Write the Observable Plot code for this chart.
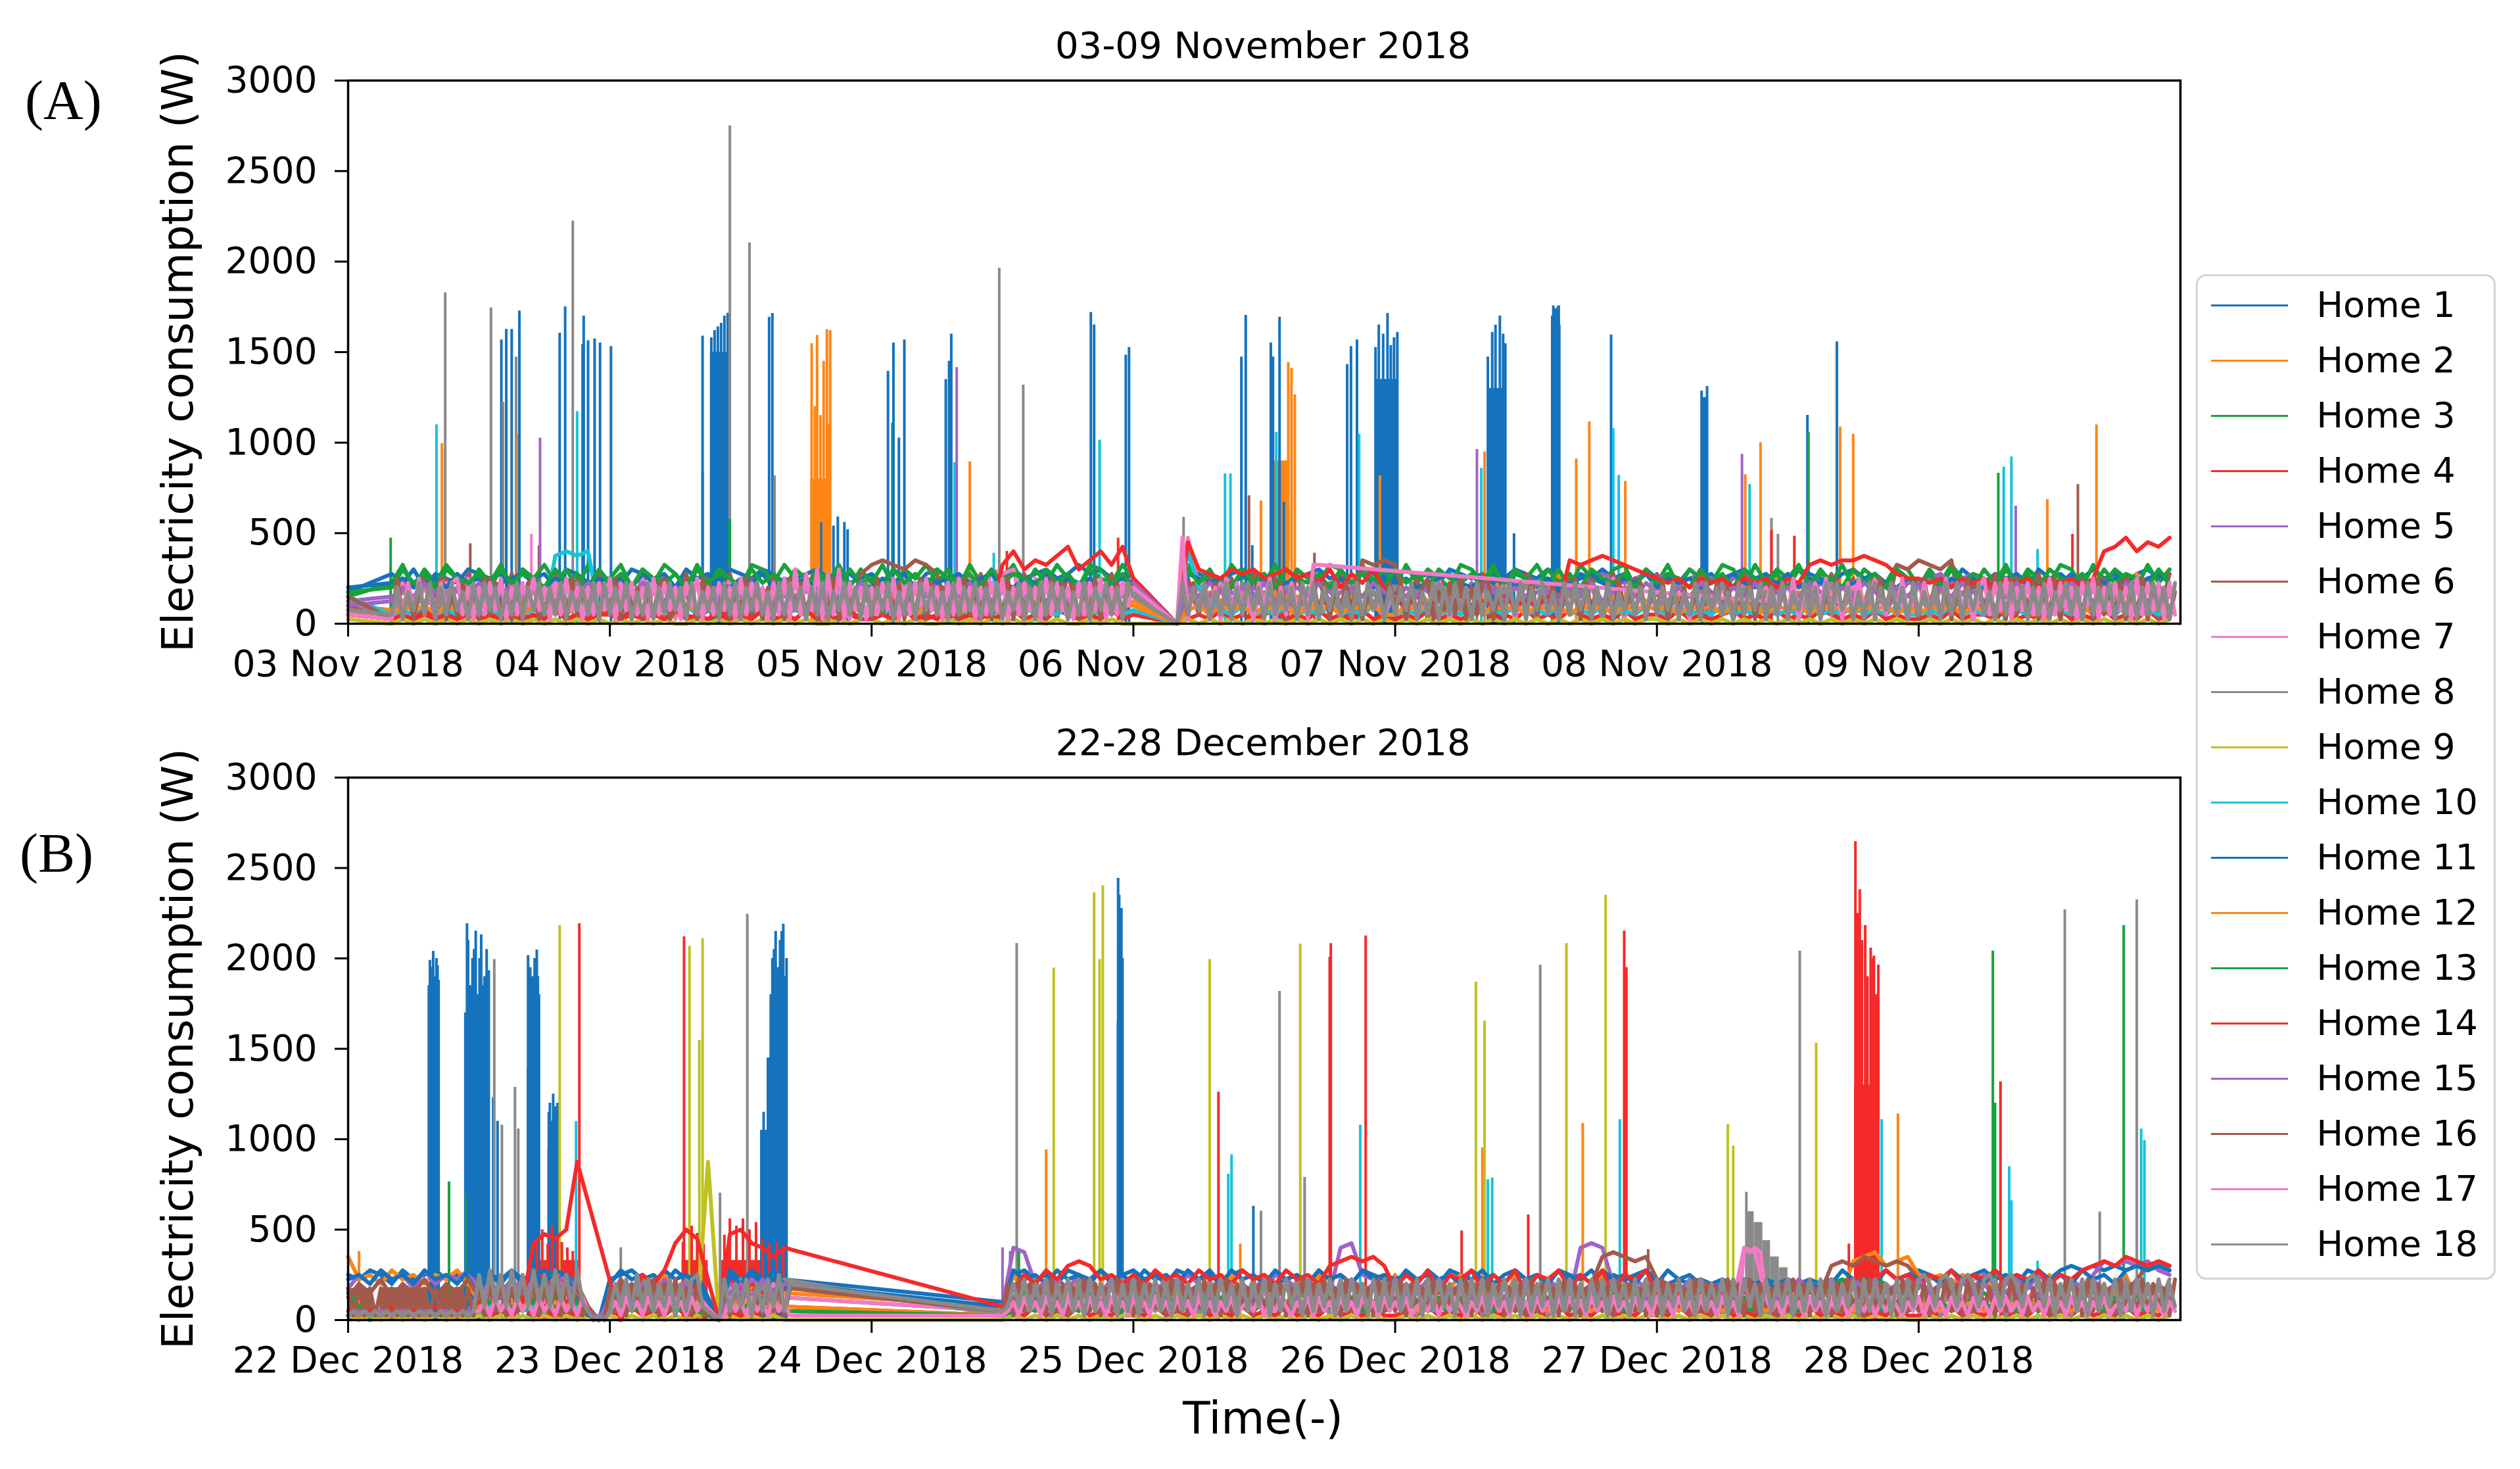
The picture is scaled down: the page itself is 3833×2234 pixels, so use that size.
<!DOCTYPE html>
<html><head><meta charset="utf-8">
<script src="https://cdn.jsdelivr.net/npm/d3@7"></script>
<script src="https://cdn.jsdelivr.net/npm/@observablehq/plot@0.6"></script>
<style>
html,body{margin:0;padding:0;background:#fff;}
#root{position:relative;width:3833px;height:2234px;background:#fff;overflow:hidden;}
#root svg{position:absolute;}
</style></head><body><div id="root"></div>
<script>
// ---------- DATA ----------
const homes = ["Home 1","Home 2","Home 3","Home 4","Home 5","Home 6","Home 7","Home 8","Home 9","Home 10","Home 11","Home 12","Home 13","Home 14","Home 15","Home 16","Home 17","Home 18"];
const homeColors = ["#1573bd","#ff8516","#18a23c","#f52a2a","#a064c8","#a35a4b","#f47ac4","#8a8a8a","#c0c022","#16c4da",
                    "#1573bd","#ff8516","#18a23c","#f52a2a","#a064c8","#a35a4b","#f47ac4","#8a8a8a"];
const titleA = "03-09 November 2018";
const titleB = "22-28 December 2018";
const tickDaysA = ["2018-11-03","2018-11-04","2018-11-05","2018-11-06","2018-11-07","2018-11-08","2018-11-09"];
const tickDaysB = ["2018-12-22","2018-12-23","2018-12-24","2018-12-25","2018-12-26","2018-12-27","2018-12-28"];
const yTicks = [0,500,1000,1500,2000,2500,3000];
const startA = "2018-11-03", startB = "2018-12-22";

// readings over the week, one char per step (base-36 digit x 25 W); "." or "(n)" = no reading
// 168 chars = hourly, 336 chars = half-hourly
const baseA = [
"7...b9c8ba9cbab9cab8cb9a a9cbab8cab9cbacb9abcab9a b9ca8bcab9ab8cabcabdbcab a...0cba9bcab8cabcab9cba bcab9cbab8acbacb9bacab9c ab9cab8bcab9acba9bcab8ca 9ab8ca9bab8cab9acab9bcab",
"4...35654746354753645764 465374563547465375463546 546374635475364536475463 5...06475364574635476354 647536475a63547b64536475 536475b4635a47536475b463 4635a7536b4635a75364b753",
"6...9d8c9da8c9d8cad9c8d9 ad8c9db8d9ca8dc9da8c9d8c 9d8cad9c8d9cad8c9da8dc9d a...0d9c8dac9d8ca9dc8d9c 8d9ca8dc9d8cad9c8da9cd8c 9d8ca9dc8d9cad8c9d8ca9dc 8c9da8c9d8ca9dc8d9ca8d9c",
"2...12121312213121231212 212131221312123121312121 121321213121231213212131 2...01213121231213121312 121312123121312132121312 213121231213121321213121 121312213121231213121312",
"5...67586978567869758697 786975869786957869786957 697586978695786978569786 8...07869758697869578697 869785697869578697aba9ab ab9aba8ab9a789697869a869 9ab9aba7869786978697a869",
"4...2a3b1a2b3a1b2a3b1a2b 3a1b2a3b1a2b3a1b2a3b1a2b dedcedb2a3b1a2b3a1b2a3b1 9...0a2b1a3b2a1b3a2b1ede d3a1b2a3b1a2b3a1b2a3b1a2 b1a2b3a1b2a3b1a2b3a1b2dc edce1a2b3a1b2a3b1a2b3a1b",
"3...1928391a2819382a1928 391a2819382a1928391a2819 382a1928391cbc1a28193829 a...0j819382a1928391a281 9382a1928391a2819382a192 8391a2819382a1928391a281 9382a1928391a2819382a192",
"5...18293719283918273918 271928391827391829371928 391827391829371928391827 7...03918293719283918273 918293719283918273918293 719283918273918293719283 918273918293719283918273",
"1...01010101010101010101 010101001010101010100101 101010010101010101001010 0...01010101010101010101 010101010101010101010101 101010101010101010101010 010101010101010101010101",
"6...232423242324232fgfg3 232423242324232423242324 324232423242324232423242 3...0g853242324232423242 232423242324232423242324 324232423242324232423242 232423242324232423242324",
"8...9a89a8b9a89ab98a9b8a 9a8b9a89ab98a9b8a9a89ab9 8a9b8a9a89ab98a9b8a9a89a 9...0ba9a8b9a89ab98a9b8a 9a89ab98a9b8a9a89ab98a9b 8a9a89ab98a9b8a9a89ab98a 9b8a9a89ab98a9b8a9a89ab9",
"3...24342434243424342434 342434243424342434243424 243424342434243424342434 4...03424342434243424342 243424342434243424342434 342434243424342434243424 243424342434243424342434",
"7...8c9b8ca9b8c9ba8c9b8c 9b8ca9b8c9ba8c9b8ca9b8c9 a8c9b8ca9b8c9ba8c9b8ca9b 8...0c9ba8c9b8ca9b8c9ba8 c9b8ca9b8c9ba8c9b8ca9b8c 9ba8c9b8ca9b8c9ba8c9b8ca 9b8c9ba8c9b8ca9b8c9ba8c9",
"2...12131213121312131213 213121312131213121312131 121312131213dgcedfhcegdh a...0icbacbcabcab9c8b9c8 5464546454645464edefedcb a9a8a9a8a9a8a9dedeefedba a9a8a9a8a9a8a9a8aghjgihj",
"4...58697586957869758697 586975869758697586957869 758697586957869758697586 9...08697586957869758697 586957869758697586957869 758697586957869758697586 958697586957869758697586",
// half-hourly
"6(7)1a2918392a1729381a29371829a138291a273918 2a19381729a138291a3729183a2918271a3928172a193829 1a2839172a1938291a2739182a1938271a3928172a183929 8(7)0a1938291a2739182a1938271a2918392a173829 3a1928a17392a1829a1738291a2839172a1938281a372918 2a1938271a3928172a1839291a2839172a1938291a273918 1a3928172a1938271a2839172a1938291a2739182a193817",
"2(7)18293a281939a2818293a18294a38192a3818293 a1839281a2938194a1829381a2938192a1c2b3c1b2c19381 8293a18294a38192a3818293a1829381a293819293a18294 8(7)0j1839281a2938194a1829381dd(13) (48) (20)58392a18294a38192a3818293a18 29381a293818a293a1839281a2938194a1829381a2938192",
"3(7)2817392918293719293817291839282917382919 283917291829381927381929183927192938182917392819 283917291938271928391829173928192938172918392819 6(7)0928391729182938192738192918392719293818 283917291829381927381929183927192938182917392819 283917291938271928391829173928192938172918392819 273819291839271929381829173928192839172918293819"
];
const baseB = [
"a9ba8b9ab9a8ba9b8ab9a810 9ab9a8b9a.0b9a8b9(7) (12)4ab9a8ba9b8a b9a8ba9b8ab9a89a8b9a8ba9 8b9a8ba9b8ab9a8ba9b8a9ab 9898989898989898989a9b9a ba9b8ab9a8ba9bcbcbcbcbcb",
"e9a8b9a8a9b84756475a6420 53647a536.0647536(7) (12)3a64753a6475 364a53647a5364753a647536 a53647a5364a7536475a3647 536475364753647536defcde a9a8a9a64753a647536a4753",
"630111111111545645456420 456454564.0564545(7) (12)256545456454 564545645456454564545645 456454564545645456454564 5645456454564545898a9854 564545645456454564545645",
"212131213121312131213120 213121312.0131213(7) (12)121312131213 213121312131213121312131 121312131213121312131213 213121312131213121312131 121312131213121312131213",
"7a8b9a7b8a9b75869758a620 758697586.0869758(7) (12)3gf8697a8697 58697a8697586a97586gha97 58697a8697586a975ghg8697 586975869758697586975869 7a8697a8697a8697adcdcdba",
"586958695869586958695830 586958695.0586958(7) (12)258695869586 958695869586958695869586 9586958695869586958efede 9586958695869586cdcedcdc 958695869586958695869cdc",
"121212121212485736485720 485736485.0736485(7) (12)248573648573 648573648573648573648573 648573648573648573648573 64857364gf57364857364857 364857364857364857364857",
"121212121212182938192820 182938192.0293819(7) (12)182938192839 182938192839182938192839 281938291839281938291839 182938192839182938192839 281938291839281938291839",
"101010101010101010101010 101010101z0101010(7) (12)010101010101 101010101010101010101010 010101010101010101010101 101010101010101010101010 010101010101010101010101",
"121212121212232423242320 324232423.0324232(7) (12)123242324232 423242324232423242324232 324232423242324232423242 324232423242324232423242 324232423242324232423242",
"9a8b9a8b9a8b9a8b9a8ba410 8b9a8b9a8.0a8b9a8(7) (12)3b9a8b9a8b9a 8b9a8b9a8b9a8b9a8b9a8b9a 9a8b9a8b9a8b9a8b9a8b9a8b 8b9a8787878787878b9a8b9a 9a8b9a8b9a8b9a8b9a8bcbcb",
"121212121212342434243420 243424342.0434243(7) (12)134243424342 434243424342434243424342 342434243424342434243424 342434243424342434243424 342434243424342434243424",
"121212121212242324232420 242324232.0324232(7) (12)123242324232 423242324232423242324232 324232423242324232423242 324232423242324232423242 324232423242324232423242",
"12121212121246574hjikz.. .05a8bhki.0jkhgeg(7) (12)37a8b9cdc9a8 a8b9a8b9a8b9a8b9a8cdedec 7a8b6a9b7a8b6a9b7a8b6a9b 6867686768676867689a9b9a 8a9b8a9b8a9b8a9bcdcedcdc",
"121212121212685968596820 596859685.0685968(7) (12)258596859685 968596859685968596859685 968596859685968596859685 968596859685968596859685 968596859685968596859685",
// half-hourly
"717171717171717171717171 81928172938172918291 3010 729183729182937182..07182937192817(14) (24)281928371928173928172938 192837192817392819283718293817291829371928371928 291837291837291829381728192837192817392819382718 192837192817392819283718293817291829371928371928 281739281928371829381729182937192837192819283719",
"121212121212121212121212 24152415241524152415 2010 241524152415241524..01524152415241(14) (24)124152415241524152415241 524152415241524142513425142531425152415241524152 425134251425314251524152415241525241524152415241 5241524152415241gfgf5241524152414251342514253142 515241524152415252415241524152414251342514253142",
"121212121212121212121212 a3b4a3b4a3b4a3b4a3b4 2010 28392a3928391829a3..09283918293a28(14) (24)238392839183928192839182 918392819283918293819283918293819283918293819283 928391829381928391839281928391829182938193819283 918392819283918293819283918293819283918293819283 9a839a839a839a839a839a83918392819283918293819283"
];

// short peaks: [home number, hour since start, watts]
const spikesA = [
[3,3.9,473],[10,8.1,1099],[2,8.6,995],[8,8.9,1829],[6,11.2,442],[8,13.1,1745],[1,14.05,1568],[8,14.2,1224],[1,14.5,1626],[1,15.0,1626],[8,15.4,1474],[2,15.55,1047],[1,15.7,1728],[7,16.8,494],[6,17.5,431],[5,17.6,1026],[1,19.4,1605],[1,19.9,1751],[8,20.6,2225],[10,21.0,1172],[1,21.5,1543],[1,21.6,1700],[1,22.0,1564],[1,22.6,1574],[1,23.1,1551],[1,24.1,1532],[10,32.5,838],[1,32.5,1589],[1,33.3,1580],[1,33.6,1620],[1,33.9,1640],[1,34.2,1660],[1,34.5,1700],[1,34.8,1715],[8,35.0,2750],[3,35.0,577],[8,36.8,2104],[1,38.6,1693],[1,38.9,1714],[8,39.1,817],[2,42.5,1547],[2,42.8,1200],[2,43.0,1593],[2,43.3,1150],[1,43.4,560],[2,43.6,1450],[2,43.9,1624],[2,44.0,1100],[2,44.2,1620],[1,44.5,540],[1,44.9,590],[1,45.5,560],[1,45.8,520],[1,49.5,1395],[3,49.9,1109],[1,50.0,1551],[1,50.5,1026],[1,51.0,1568],[1,54.8,1349],[1,55.1,1450],[1,55.3,1600],[10,55.6,890],[5,55.8,1416],[2,57.0,894],
[10,59.2,390],[14,60.4,400],[8,59.7,1964],[8,61.9,1318],[1,68.1,1720],[1,68.4,1651],[10,68.9,1015],[14,70.6,473],[1,71.3,1484],[1,71.6,1526],[8,76.6,588],[10,80.4,828],[10,80.9,828],[1,81.9,1474],[1,82.3,1703],[6,82.6,707],[1,82.9,432],[2,83.7,678],[1,84.6,1551],[1,84.8,1474],[10,85.1,1057],[1,85.4,1693],[1,85.8,671],[2,86.2,1443],[2,86.5,1411],[2,86.8,1265],[6,88.6,390],[1,91.6,1432],[1,91.95,1532],[1,92.5,1568],[10,92.7,1047],[1,94.2,1526],[1,94.5,1651],[2,94.6,817],[1,94.9,1600],[1,95.3,1714],[1,95.6,1537],[1,95.9,1580],[1,96.2,1610],[5,103.5,963],[10,103.9,859],[2,104.2,949],[1,104.5,1474],[1,104.9,1610],[1,105.2,1650],[1,105.6,1700],[1,105.9,1600],[1,106.1,1547],[1,106.9,498],[1,110.4,1700],[1,110.5,1756],[1,110.7,1740],[1,110.9,1750],[1,111.0,1756],[2,112.6,911],
[2,113.8,1115],[1,115.8,1595],[10,116.0,1078],[10,116.5,820],[2,117.1,786],[1,124.1,1286],[1,124.6,1311],[5,127.8,936],[2,128.1,824],[10,128.5,769],[2,129.5,1001],[8,130.5,582],[14,130.5,515],[8,131.1,494],[14,132.6,484],[1,133.8,1151],[3,133.9,1057],[1,136.5,1557],[2,136.8,1088],[2,138.0,1047],[3,151.3,832],[10,151.8,865],[10,152.5,922],[5,152.9,650],[10,154.9,411],[2,155.8,686],[14,158.1,494],[6,158.6,769],[2,160.3,1099]
];
const spikesB = [
[12,1.0,380],[11,7.4,1850],[11,7.5,1990],[11,7.65,1950],[11,7.8,2040],[11,7.95,1900],[11,8.1,2000],[11,8.2,1960],[11,8.3,1880],[13,9.25,765],[11,10.75,1700],[11,10.9,2193],[13,10.9,692],[11,11.0,2100],[11,11.2,1850],[11,11.4,2000],[11,11.55,2050],[11,11.7,2152],[11,11.9,1800],[11,12.05,2000],[11,12.2,2131],[11,12.35,1850],[11,12.5,1900],[11,12.7,2050],[11,12.9,1933],[11,13.3,1230],[18,13.4,1995],[11,13.7,1100],[18,14.1,1078],[18,15.3,1287],[18,15.6,1057],[11,16.5,2016],[11,16.7,1950],[11,16.9,1900],[11,17.1,2000],[11,17.3,2047],[11,17.4,1900],[11,17.5,1800],[11,18.4,1150],[11,18.5,1200],[11,18.6,1100],[11,18.8,1250],[11,19.0,1180],[11,19.2,1200],[11,19.3,1150],[9,19.4,2183],[10,20.9,1099],[14,21.2,2193],[18,25.0,400],[14,30.8,2120],[9,31.3,2068],[9,32.2,1547],[9,32.5,2110],[18,34.1,703],[18,36.6,2245],[11,38.1,1150],[11,38.6,1450],[11,38.75,1800],[11,38.9,2000],[11,39.05,2050],[11,39.2,2150],[11,39.4,1950],[11,39.6,2100],[11,39.75,2150],[11,39.9,2190],[11,40.05,1900],[11,40.2,2000],
[14,17.3,450],[14,17.8,500],[14,18.3,420],[14,18.7,520],[14,19.2,470],[14,19.6,430],[14,20.1,400],[14,20.6,380],[14,30.7,430],[14,31.5,520],[14,32.0,480],[14,32.6,420],[14,34.5,470],[14,35.0,560],[14,35.6,520],[14,36.2,560],[14,36.8,500],[14,37.4,540],[14,38.0,450],[14,38.6,420],[14,39.3,430],[14,39.9,400],
[15,60.0,400],[15,60.7,380],[18,61.3,2083],[13,61.5,390],[12,64.0,942],[9,64.7,1947],[9,68.4,2364],[9,68.9,1995],[9,69.2,2402],[11,70.6,2444],[11,70.7,2350],[11,70.8,2100],[11,70.9,2277],[11,71.0,2000],[9,79.0,1995],[14,79.8,1261],[10,80.7,807],[10,81.0,915],[12,81.8,421],[11,83.0,630],[18,83.7,603],[18,85.4,1818],[9,87.3,2079],[18,87.7,790],[14,90.0,2006],[14,90.1,2083],[10,92.8,1078],[14,93.3,2125],[14,102.1,494],[9,103.4,1870],[12,104.0,953],[9,104.2,1655],[10,104.5,776],[10,104.9,786],[14,108.2,582],[18,109.3,1964],[9,111.7,2083],[12,113.2,1088],
[9,115.3,2350],[10,116.6,1109],[14,117.0,2152],[14,117.2,1950],[6,119.2,390],[9,126.5,1082],[9,127.0,963],[18,128.2,707],[18,133.1,2041],[9,134.6,1532],[14,137.6,421],[14,138.2,2646],[14,138.4,2250],[14,138.6,2381],[14,138.8,2100],[14,139.1,2183],[14,139.3,1900],[14,139.6,2058],[14,139.75,2000],[14,139.9,2014],[14,140.1,1800],[14,140.3,1964],[10,140.6,1109],[12,142.1,1140],[13,150.8,2041],[13,151.0,1200],[14,151.5,1318],[10,152.3,849],[10,152.5,661],[10,154.9,327],[18,157.4,2270],[18,160.6,598],[13,162.8,2183],[18,164.0,2325],[10,164.4,1057],[10,164.7,995]
];
// sustained high use: [home number, from hour, to hour, watts]
const burstsA = [[1,33.2,34.9,1500],[2,42.4,44.3,800],[2,84.8,86.2,900],[1,94.2,96.3,1350],[1,104.5,106.1,1300],[1,110.4,111.2,1650],[1,124.1,124.6,1250]];
const burstsB = [[16,0,2.3,175],[16,2.9,11.3,180],[11,7.4,8.3,1650],[11,10.7,12.9,1550],[11,16.4,17.5,1400],[11,18.3,19.4,950],[14,17.2,21.1,330],[14,30.6,33.0,330],[14,34.2,40.3,330],[11,37.8,38.4,1050],[11,38.4,40.3,1450],[11,70.5,71.1,1650],[18,128.2,128.9,600],[18,128.9,129.7,540],[18,129.7,130.4,440],[18,130.4,131.2,350],[18,131.2,132.0,290],[14,138.1,140.4,1300]];

// ---------- BUILD ----------
const HOUR = 3600000;
const t0 = s => Date.parse(s + "T00:00:00Z");
function decode(s){
  return s.replace(/\((\d+)\)/g, (m, n) => ".".repeat(+n)).replace(/ /g, "")
          .split("").map(c => c === "." ? null : parseInt(c, 36) * 25);
}
function lineRows(base, start){
  const rows = [];
  base.forEach((s, i) => {
    const v = decode(s);
    if (v.length !== 168 && v.length !== 336) throw new Error("bad length " + homes[i] + " " + v.length);
    const step = 168 / v.length;
    v.forEach((val, k) => { if (val !== null) rows.push({home: homes[i], t: new Date(start + k * step * HOUR), v: val}); });
  });
  return rows;
}
const spikeRows = (arr, start) => arr.map(([k, h, v]) => ({home: homes[k-1], t: new Date(start + h*HOUR), v}));
const burstRows = (arr, start) => arr.map(([k, a, b, v]) => ({home: homes[k-1], a: new Date(start + a*HOUR), b: new Date(start + b*HOUR), v}));
const fmt = d3.utcFormat("%d %b %Y");
const FONT = "DejaVu Sans";

function panel(base, spikes, bursts, startStr, ticks, height, mTop, mBottom){
  const start = t0(startStr);
  return Plot.plot({
    width: 3360, height,
    marginLeft: 529, marginRight: 44, marginTop: mTop, marginBottom: mBottom,
    x: {type: "utc", domain: [new Date(start), new Date(start + 168*HOUR)]},
    y: {domain: [0, 3000]},
    color: {type: "ordinal", domain: homes, range: homeColors},
    style: {fontFamily: FONT, fontSize: "55px", color: "black", background: "transparent"},
    marks: [
      Plot.rect(burstRows(bursts, start), {x1: "a", x2: "b", y1: 0, y2: "v", fill: "home"}),
      Plot.ruleX(spikeRows(spikes, start), {x: "t", y1: 0, y2: "v", stroke: "home", strokeWidth: 4}),
      Plot.line(lineRows(base, start), {x: "t", y: "v", stroke: "home", strokeWidth: 6}),
      Plot.frame({stroke: "black", strokeWidth: 3.5}),
      Plot.axisX({ticks: ticks.map(s => new Date(t0(s))), tickFormat: fmt, tickSize: 20, tickPadding: 20, strokeWidth: 3, fontSize: 55, label: null}),
      Plot.axisY({ticks: yTicks, tickFormat: d3.format("d"), tickSize: 20, tickPadding: 27, strokeWidth: 3, fontSize: 55, label: null})
    ]
  });
}

const root = document.getElementById("root");
const A = panel(baseA, spikesA, burstsA, startA, tickDaysA, 1100, 122, 152);
A.style.left = "0px"; A.style.top = "0px";
const B = panel(baseB, spikesB, burstsB, startB, tickDaysB, 1134, 82, 227);
B.style.left = "0px"; B.style.top = "1100px";
root.appendChild(A); root.appendChild(B);

const legend = Plot.plot({
  width: 457, height: 1530, margin: 0,
  x: {domain: [0, 457], range: [0, 457], axis: null},
  y: {type: "point", domain: homes, range: [44, 1479], padding: 0, axis: null},
  color: {type: "ordinal", domain: homes, range: homeColors},
  style: {fontFamily: FONT, background: "transparent"},
  marks: [
    Plot.frame({stroke: "#d4d4d4", strokeWidth: 3, fill: "white", rx: 14, inset: 2}),
    Plot.ruleY(homes, {y: d => d, x1: 24, x2: 141, stroke: d => d, strokeWidth: 3}),
    Plot.text(homes, {x: 184, y: d => d, text: d => d, textAnchor: "start", fontSize: 54, fill: "black"})
  ]
});
legend.style.left = "3339px"; legend.style.top = "416px";
root.appendChild(legend);

// titles, panel letters, axis labels
const ov = d3.create("svg").attr("width", 3833).attr("height", 2234)
  .style("left", "0px").style("top", "0px").style("pointer-events", "none");
const txt = (x, y, s, size, fam, anchor, rot) => {
  const t = ov.append("text").attr("font-family", fam).attr("font-size", size)
    .attr("text-anchor", anchor).attr("fill", "black").text(s);
  if (rot) t.attr("transform", `translate(${x},${y}) rotate(-90)`); else t.attr("x", x).attr("y", y);
};
txt(1921, 88, titleA, 56, FONT, "middle");
txt(1921, 1148, titleB, 56, FONT, "middle");
txt(38, 181, "(A)", 84, "Liberation Serif", "start");
txt(30, 1326, "(B)", 84, "Liberation Serif", "start");
txt(293, 535, "Electricity consumption (W)", 66, FONT, "middle", true);
txt(293, 1595, "Electricity consumption (W)", 66, FONT, "middle", true);
txt(1921, 2180, "Time(-)", 68, FONT, "middle");
root.insertBefore(ov.node(), root.firstChild);
</script></body></html>
